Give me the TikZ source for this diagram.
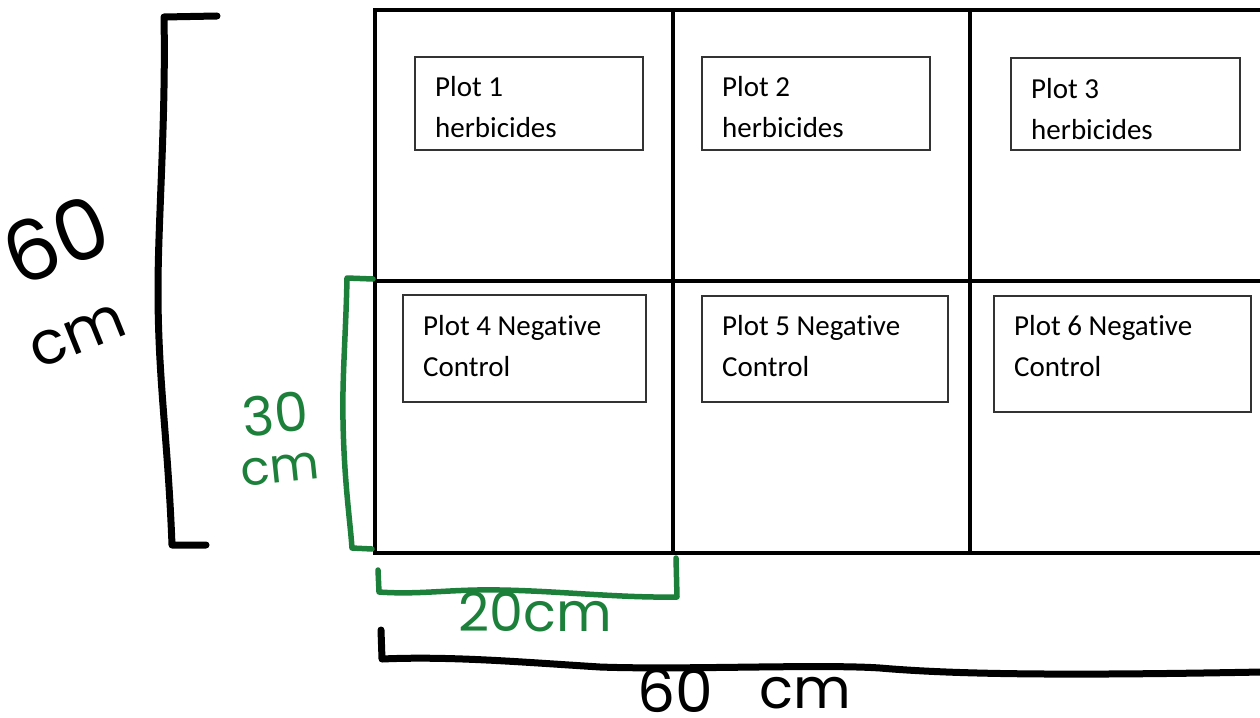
\documentclass[tikz,border=0pt]{standalone}
\usepackage{fontspec}
\setmainfont{Carlito}[Ligatures=NoCommon]
\newfontfamily\hand{Poppins}
\definecolor{pengreen}{RGB}{28,128,58}
\begin{document}
\begin{tikzpicture}[x=1pt,y=-1pt,
  gridline/.style={line width=4.6pt},
  plotbox/.style={draw=black!80, line width=1.2pt, inner sep=0pt, outer sep=0pt, anchor=north west},
  plottext/.style={anchor=base west, inner sep=0pt, font=\fontsize{29}{34}\selectfont},
  pen/.style={line width=7pt, line cap=round, line join=round},
  greenpen/.style={pen, draw=pengreen, line width=5.5pt},
  handlabel/.style={inner sep=0pt}
]
\useasboundingbox (0,0) rectangle (1260,717);

% grid
\coordinate (tl) at (375,10);
\coordinate (bl) at (375,553);
\coordinate (tr) at (1262,10);
\coordinate (br) at (1262,553);
\coordinate (ml) at (375,281);
\coordinate (mr) at (1262,281);
\coordinate (c1t) at (673,10);
\coordinate (c1b) at (673,553);
\coordinate (c2t) at (970,10);
\coordinate (c2b) at (970,553);
\draw[gridline] (tr) -- (tl) -- (bl) -- (br);
\draw[gridline] (ml) -- (mr);
\draw[gridline] (c1t) -- (c1b);
\draw[gridline] (c2t) -- (c2b);

% plot boxes
\node[plotbox, minimum width=228pt, minimum height=93pt] (b1) at (415,57) {};
\node[plotbox, minimum width=228pt, minimum height=93pt] (b2) at (702,57) {};
\node[plotbox, minimum width=229pt, minimum height=92pt] (b3) at (1011,58) {};
\node[plotbox, minimum width=243pt, minimum height=107pt] (b4) at (403,295) {};
\node[plotbox, minimum width=246pt, minimum height=106pt] (b5) at (702,296) {};
\node[plotbox, minimum width=257pt, minimum height=116pt] (b6) at (994,296) {};

\node[plottext] (t1a) at (435,96) {Plot 1};
\node[plottext] (t1b) at (435,137) {herbicides};
\node[plottext] (t2a) at (722,96) {Plot 2};
\node[plottext] (t2b) at (722,137) {herbicides};
\node[plottext] (t3a) at (1031,98) {Plot 3};
\node[plottext] (t3b) at (1031,139) {herbicides};
\node[plottext] (t4a) at (423,335) {Plot 4 Negative};
\node[plottext] (t4b) at (423,376) {Control};
\node[plottext] (t5a) at (722,335) {Plot 5 Negative};
\node[plottext] (t5b) at (722,376) {Control};
\node[plottext] (t6a) at (1014,335) {Plot 6 Negative};
\node[plottext] (t6b) at (1014,376) {Control};

% black bracket left (60 cm)
\coordinate (lb1) at (217,16);
\coordinate (lb2) at (164,17);
\coordinate (lb3) at (172,545);
\coordinate (lb4) at (206,545);
\draw[pen] (lb1) -- (lb2) .. controls (166,120) and (158,220) .. (158,290)
  .. controls (158,380) and (168,440) .. (lb3) -- (lb4);
\node[handlabel, rotate=22, font=\hand\fontsize{84}{84}\selectfont] (l60a) at (56,240) {60};
\node[handlabel, rotate=22, font=\hand\fontsize{60}{60}\selectfont] (l60b) at (78,336) {cm};

% green bracket left (30 cm)
\coordinate (gl1) at (373,279);
\coordinate (gl2) at (347,278);
\coordinate (gl3) at (352,548);
\coordinate (gl4) at (372,549);
\draw[greenpen] (gl1) -- (gl2) .. controls (346,330) and (342,380) .. (343,420)
  .. controls (344,480) and (350,520) .. (gl3) -- (gl4);
\node[handlabel, rotate=6, text=pengreen, font=\hand\fontsize{54}{54}\selectfont] (l30a) at (275,414) {30};
\node[handlabel, rotate=6, text=pengreen, font=\hand\fontsize{48}{48}\selectfont] (l30b) at (280,469) {cm};

% green bracket bottom (20 cm)
\coordinate (gb1) at (378,570);
\coordinate (gb2) at (379,592);
\coordinate (gb3) at (677,597);
\coordinate (gb4) at (676,558);
\draw[greenpen] (gb1) -- (gb2) .. controls (420,595) and (450,589) .. (500,590)
  .. controls (560,591) and (620,598) .. (gb3) -- (gb4);
\node[handlabel, text=pengreen, font=\hand\fontsize{54}{54}\selectfont] (l20) at (535,612) {20cm};

% black bracket bottom (60 cm)
\coordinate (bb1) at (381,630);
\coordinate (bb2) at (382,659);
\coordinate (bb3) at (1262,672);
\draw[pen] (bb1) -- (bb2) .. controls (450,656) and (520,662) .. (600,667)
  .. controls (680,670) and (820,664) .. (880,668)
  .. controls (950,674) and (1050,676) .. (bb3);
\node[handlabel, font=\hand\fontsize{60}{60}\selectfont] (b60a) at (675,690) {60};
\node[handlabel, font=\hand\fontsize{56}{56}\selectfont] (b60b) at (805,693) {cm};
\end{tikzpicture}
\end{document}
